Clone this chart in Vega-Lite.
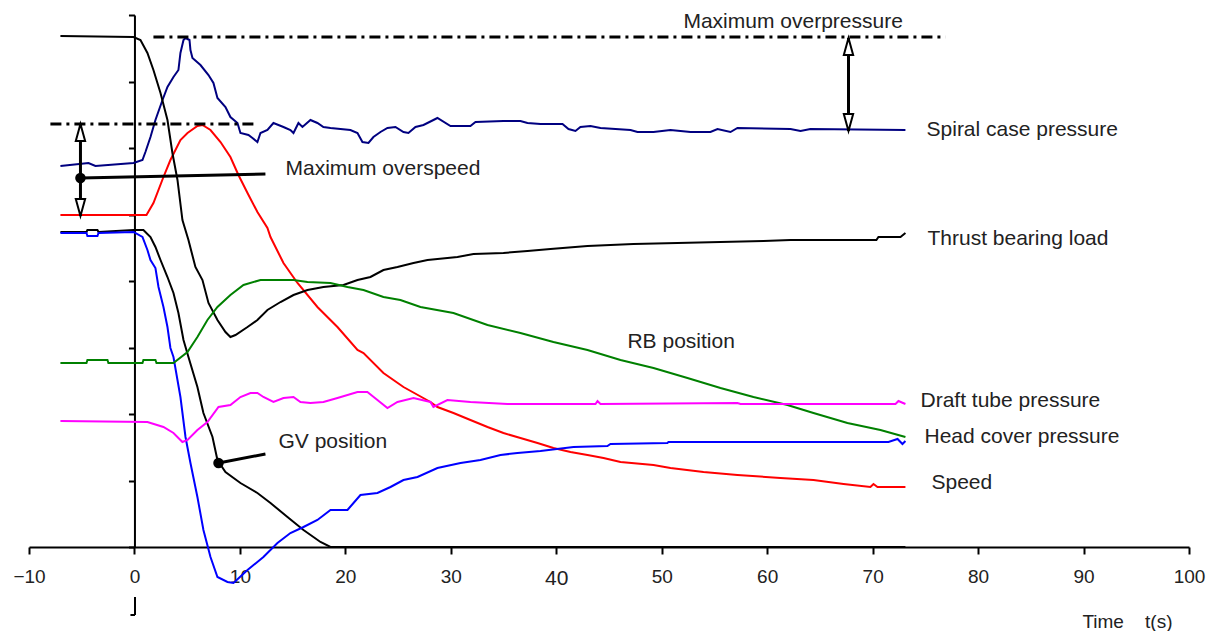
{
  "$schema": "https://vega.github.io/schema/vega-lite/v6.json",
  "autosize": "none",
  "width": 1160,
  "height": 532,
  "padding": {"left": 29, "top": 15, "right": 26, "bottom": 84},
  "background": "white",
  "config": {"view": {"stroke": null}, "font": "Liberation Sans"},
  "datasets": {
    "curves": [
      {"s": "Spiral case pressure", "t": -7.02, "v": 381}, {"s": "Spiral case pressure", "t": -4.36, "v": 384}, {"s": "Spiral case pressure", "t": -3.7, "v": 381}, {"s": "Spiral case pressure", "t": -0.09, "v": 384}, {"s": "Spiral case pressure", "t": 0.76, "v": 387}, {"s": "Spiral case pressure", "t": 1.04, "v": 395}, {"s": "Spiral case pressure", "t": 1.52, "v": 410}, {"s": "Spiral case pressure", "t": 1.99, "v": 427}, {"s": "Spiral case pressure", "t": 2.66, "v": 447}, {"s": "Spiral case pressure", "t": 3.13, "v": 460}, {"s": "Spiral case pressure", "t": 3.7, "v": 470}, {"s": "Spiral case pressure", "t": 4.17, "v": 477}, {"s": "Spiral case pressure", "t": 4.36, "v": 494}, {"s": "Spiral case pressure", "t": 4.65, "v": 507}, {"s": "Spiral case pressure", "t": 4.84, "v": 509}, {"s": "Spiral case pressure", "t": 5.22, "v": 507}, {"s": "Spiral case pressure", "t": 5.31, "v": 497}, {"s": "Spiral case pressure", "t": 5.5, "v": 489}, {"s": "Spiral case pressure", "t": 6.26, "v": 482}, {"s": "Spiral case pressure", "t": 7.02, "v": 472}, {"s": "Spiral case pressure", "t": 7.49, "v": 464}, {"s": "Spiral case pressure", "t": 7.87, "v": 449}, {"s": "Spiral case pressure", "t": 8.63, "v": 440}, {"s": "Spiral case pressure", "t": 9.1, "v": 430}, {"s": "Spiral case pressure", "t": 9.77, "v": 424}, {"s": "Spiral case pressure", "t": 10.05, "v": 414}, {"s": "Spiral case pressure", "t": 10.81, "v": 412}, {"s": "Spiral case pressure", "t": 11.19, "v": 409}, {"s": "Spiral case pressure", "t": 11.66, "v": 405}, {"s": "Spiral case pressure", "t": 11.95, "v": 414}, {"s": "Spiral case pressure", "t": 12.61, "v": 417}, {"s": "Spiral case pressure", "t": 13.18, "v": 424}, {"s": "Spiral case pressure", "t": 14.13, "v": 420}, {"s": "Spiral case pressure", "t": 14.79, "v": 417}, {"s": "Spiral case pressure", "t": 15.08, "v": 414}, {"s": "Spiral case pressure", "t": 15.55, "v": 424}, {"s": "Spiral case pressure", "t": 15.93, "v": 420}, {"s": "Spiral case pressure", "t": 16.69, "v": 427}, {"s": "Spiral case pressure", "t": 17.35, "v": 424}, {"s": "Spiral case pressure", "t": 17.92, "v": 420}, {"s": "Spiral case pressure", "t": 18.59, "v": 419}, {"s": "Spiral case pressure", "t": 20.48, "v": 417}, {"s": "Spiral case pressure", "t": 21.15, "v": 414}, {"s": "Spiral case pressure", "t": 21.62, "v": 405}, {"s": "Spiral case pressure", "t": 22.19, "v": 404}, {"s": "Spiral case pressure", "t": 22.66, "v": 410}, {"s": "Spiral case pressure", "t": 23.33, "v": 415}, {"s": "Spiral case pressure", "t": 23.99, "v": 419}, {"s": "Spiral case pressure", "t": 24.75, "v": 420}, {"s": "Spiral case pressure", "t": 25.51, "v": 415}, {"s": "Spiral case pressure", "t": 25.98, "v": 414}, {"s": "Spiral case pressure", "t": 26.65, "v": 420}, {"s": "Spiral case pressure", "t": 27.41, "v": 422}, {"s": "Spiral case pressure", "t": 28.73, "v": 429}, {"s": "Spiral case pressure", "t": 29.97, "v": 421}, {"s": "Spiral case pressure", "t": 31.86, "v": 421}, {"s": "Spiral case pressure", "t": 32.34, "v": 425}, {"s": "Spiral case pressure", "t": 34.99, "v": 426}, {"s": "Spiral case pressure", "t": 36.6, "v": 426}, {"s": "Spiral case pressure", "t": 37.27, "v": 424}, {"s": "Spiral case pressure", "t": 38.5, "v": 423}, {"s": "Spiral case pressure", "t": 40.59, "v": 423}, {"s": "Spiral case pressure", "t": 41.16, "v": 418}, {"s": "Spiral case pressure", "t": 41.82, "v": 416}, {"s": "Spiral case pressure", "t": 42.29, "v": 420}, {"s": "Spiral case pressure", "t": 43.24, "v": 421}, {"s": "Spiral case pressure", "t": 44.19, "v": 419}, {"s": "Spiral case pressure", "t": 47.04, "v": 417}, {"s": "Spiral case pressure", "t": 47.7, "v": 415}, {"s": "Spiral case pressure", "t": 49.22, "v": 415}, {"s": "Spiral case pressure", "t": 50.83, "v": 417}, {"s": "Spiral case pressure", "t": 52.73, "v": 415}, {"s": "Spiral case pressure", "t": 54.62, "v": 415}, {"s": "Spiral case pressure", "t": 55.29, "v": 418}, {"s": "Spiral case pressure", "t": 56.52, "v": 415}, {"s": "Spiral case pressure", "t": 57.18, "v": 419}, {"s": "Spiral case pressure", "t": 62.21, "v": 418}, {"s": "Spiral case pressure", "t": 63.16, "v": 416}, {"s": "Spiral case pressure", "t": 64.1, "v": 418}, {"s": "Spiral case pressure", "t": 73.11, "v": 417},

      {"s": "Speed", "t": -7.02, "v": 332}, {"s": "Speed", "t": 1.14, "v": 332}, {"s": "Speed", "t": 1.8, "v": 344}, {"s": "Speed", "t": 2.75, "v": 370}, {"s": "Speed", "t": 3.41, "v": 387}, {"s": "Speed", "t": 4.36, "v": 407}, {"s": "Speed", "t": 5.03, "v": 414}, {"s": "Speed", "t": 5.97, "v": 421}, {"s": "Speed", "t": 6.45, "v": 422}, {"s": "Speed", "t": 7.21, "v": 417}, {"s": "Speed", "t": 8.16, "v": 405}, {"s": "Speed", "t": 9.1, "v": 390}, {"s": "Speed", "t": 9.86, "v": 372}, {"s": "Speed", "t": 10.72, "v": 354}, {"s": "Speed", "t": 11.66, "v": 335}, {"s": "Speed", "t": 12.61, "v": 319}, {"s": "Speed", "t": 12.9, "v": 310}, {"s": "Speed", "t": 14.13, "v": 284}, {"s": "Speed", "t": 15.46, "v": 264}, {"s": "Speed", "t": 17.35, "v": 240}, {"s": "Speed", "t": 19.25, "v": 220}, {"s": "Speed", "t": 21.15, "v": 197}, {"s": "Speed", "t": 21.72, "v": 194}, {"s": "Speed", "t": 23.61, "v": 174}, {"s": "Speed", "t": 25.51, "v": 160}, {"s": "Speed", "t": 28.07, "v": 145}, {"s": "Speed", "t": 28.73, "v": 140}, {"s": "Speed", "t": 30.25, "v": 134}, {"s": "Speed", "t": 31.86, "v": 127}, {"s": "Speed", "t": 33.48, "v": 120}, {"s": "Speed", "t": 34.99, "v": 114}, {"s": "Speed", "t": 36.6, "v": 109}, {"s": "Speed", "t": 38.22, "v": 104}, {"s": "Speed", "t": 39.73, "v": 99}, {"s": "Speed", "t": 41.35, "v": 95}, {"s": "Speed", "t": 42.96, "v": 92}, {"s": "Speed", "t": 44.48, "v": 89}, {"s": "Speed", "t": 46.09, "v": 85}, {"s": "Speed", "t": 49.22, "v": 82}, {"s": "Speed", "t": 50.83, "v": 79}, {"s": "Speed", "t": 53.96, "v": 75}, {"s": "Speed", "t": 57.18, "v": 72}, {"s": "Speed", "t": 61.26, "v": 69}, {"s": "Speed", "t": 64.39, "v": 67}, {"s": "Speed", "t": 67.24, "v": 63}, {"s": "Speed", "t": 69.79, "v": 60}, {"s": "Speed", "t": 70.08, "v": 63}, {"s": "Speed", "t": 70.46, "v": 60}, {"s": "Speed", "t": 73.11, "v": 60},

      {"s": "Thrust bearing load", "t": -7.02, "v": 511}, {"s": "Thrust bearing load", "t": -0.09, "v": 510}, {"s": "Thrust bearing load", "t": 0.57, "v": 507}, {"s": "Thrust bearing load", "t": 1.23, "v": 494}, {"s": "Thrust bearing load", "t": 1.8, "v": 477}, {"s": "Thrust bearing load", "t": 2.47, "v": 454}, {"s": "Thrust bearing load", "t": 3.13, "v": 427}, {"s": "Thrust bearing load", "t": 3.6, "v": 394}, {"s": "Thrust bearing load", "t": 4.08, "v": 367}, {"s": "Thrust bearing load", "t": 4.55, "v": 327}, {"s": "Thrust bearing load", "t": 5.12, "v": 307}, {"s": "Thrust bearing load", "t": 5.78, "v": 280}, {"s": "Thrust bearing load", "t": 6.45, "v": 267}, {"s": "Thrust bearing load", "t": 7.02, "v": 244}, {"s": "Thrust bearing load", "t": 7.87, "v": 227}, {"s": "Thrust bearing load", "t": 8.63, "v": 215}, {"s": "Thrust bearing load", "t": 9.1, "v": 210}, {"s": "Thrust bearing load", "t": 9.58, "v": 212}, {"s": "Thrust bearing load", "t": 10.72, "v": 220}, {"s": "Thrust bearing load", "t": 11.66, "v": 227}, {"s": "Thrust bearing load", "t": 12.61, "v": 237}, {"s": "Thrust bearing load", "t": 13.85, "v": 245}, {"s": "Thrust bearing load", "t": 15.08, "v": 252}, {"s": "Thrust bearing load", "t": 16.41, "v": 257}, {"s": "Thrust bearing load", "t": 17.92, "v": 260}, {"s": "Thrust bearing load", "t": 19.82, "v": 262}, {"s": "Thrust bearing load", "t": 21.15, "v": 267}, {"s": "Thrust bearing load", "t": 22.38, "v": 270}, {"s": "Thrust bearing load", "t": 23.61, "v": 277}, {"s": "Thrust bearing load", "t": 24.94, "v": 280}, {"s": "Thrust bearing load", "t": 26.46, "v": 284}, {"s": "Thrust bearing load", "t": 27.79, "v": 287}, {"s": "Thrust bearing load", "t": 30.63, "v": 290}, {"s": "Thrust bearing load", "t": 32.15, "v": 293}, {"s": "Thrust bearing load", "t": 34.99, "v": 294}, {"s": "Thrust bearing load", "t": 37.27, "v": 296}, {"s": "Thrust bearing load", "t": 39.45, "v": 298}, {"s": "Thrust bearing load", "t": 42.96, "v": 301}, {"s": "Thrust bearing load", "t": 47.32, "v": 303}, {"s": "Thrust bearing load", "t": 51.49, "v": 304}, {"s": "Thrust bearing load", "t": 59.65, "v": 306}, {"s": "Thrust bearing load", "t": 62.21, "v": 307}, {"s": "Thrust bearing load", "t": 70.36, "v": 307}, {"s": "Thrust bearing load", "t": 70.55, "v": 310}, {"s": "Thrust bearing load", "t": 72.64, "v": 310}, {"s": "Thrust bearing load", "t": 73.11, "v": 314},

      {"s": "GV position", "t": -7.02, "v": 315}, {"s": "GV position", "t": -4.55, "v": 315}, {"s": "GV position", "t": -4.46, "v": 317}, {"s": "GV position", "t": -3.51, "v": 317}, {"s": "GV position", "t": -3.41, "v": 315}, {"s": "GV position", "t": -0.09, "v": 317}, {"s": "GV position", "t": 0.85, "v": 317}, {"s": "GV position", "t": 1.52, "v": 310}, {"s": "GV position", "t": 1.99, "v": 300}, {"s": "GV position", "t": 2.47, "v": 287}, {"s": "GV position", "t": 3.13, "v": 270}, {"s": "GV position", "t": 3.7, "v": 254}, {"s": "GV position", "t": 4.17, "v": 234}, {"s": "GV position", "t": 4.65, "v": 207}, {"s": "GV position", "t": 5.12, "v": 190}, {"s": "GV position", "t": 5.97, "v": 160}, {"s": "GV position", "t": 6.54, "v": 134}, {"s": "GV position", "t": 7.4, "v": 110}, {"s": "GV position", "t": 7.87, "v": 87}, {"s": "GV position", "t": 8.63, "v": 75}, {"s": "GV position", "t": 10.05, "v": 64}, {"s": "GV position", "t": 11.66, "v": 54}, {"s": "GV position", "t": 12.9, "v": 44}, {"s": "GV position", "t": 14.51, "v": 30}, {"s": "GV position", "t": 16.03, "v": 17}, {"s": "GV position", "t": 17.64, "v": 5}, {"s": "GV position", "t": 18.59, "v": 0}, {"s": "GV position", "t": 73.11, "v": 0},

      {"s": "Head cover pressure", "t": -7.02, "v": 314}, {"s": "Head cover pressure", "t": -4.55, "v": 314}, {"s": "Head cover pressure", "t": -4.46, "v": 311}, {"s": "Head cover pressure", "t": -3.51, "v": 311}, {"s": "Head cover pressure", "t": -3.41, "v": 314}, {"s": "Head cover pressure", "t": -0.09, "v": 315}, {"s": "Head cover pressure", "t": 0.76, "v": 310}, {"s": "Head cover pressure", "t": 1.23, "v": 297}, {"s": "Head cover pressure", "t": 1.52, "v": 287}, {"s": "Head cover pressure", "t": 1.99, "v": 279}, {"s": "Head cover pressure", "t": 2.28, "v": 260}, {"s": "Head cover pressure", "t": 2.75, "v": 240}, {"s": "Head cover pressure", "t": 3.13, "v": 220}, {"s": "Head cover pressure", "t": 3.41, "v": 199}, {"s": "Head cover pressure", "t": 3.7, "v": 190}, {"s": "Head cover pressure", "t": 4.36, "v": 150}, {"s": "Head cover pressure", "t": 4.84, "v": 110}, {"s": "Head cover pressure", "t": 5.31, "v": 84}, {"s": "Head cover pressure", "t": 5.97, "v": 50}, {"s": "Head cover pressure", "t": 6.54, "v": 17}, {"s": "Head cover pressure", "t": 7.21, "v": -10}, {"s": "Head cover pressure", "t": 7.87, "v": -30}, {"s": "Head cover pressure", "t": 8.82, "v": -35}, {"s": "Head cover pressure", "t": 9.39, "v": -36}, {"s": "Head cover pressure", "t": 10.72, "v": -23}, {"s": "Head cover pressure", "t": 12.23, "v": -10}, {"s": "Head cover pressure", "t": 13.56, "v": 4}, {"s": "Head cover pressure", "t": 14.79, "v": 14}, {"s": "Head cover pressure", "t": 16.03, "v": 20}, {"s": "Head cover pressure", "t": 17.35, "v": 27}, {"s": "Head cover pressure", "t": 18.59, "v": 37}, {"s": "Head cover pressure", "t": 20.2, "v": 37}, {"s": "Head cover pressure", "t": 21.43, "v": 52}, {"s": "Head cover pressure", "t": 23.04, "v": 54}, {"s": "Head cover pressure", "t": 24.28, "v": 60}, {"s": "Head cover pressure", "t": 25.51, "v": 67}, {"s": "Head cover pressure", "t": 26.84, "v": 70}, {"s": "Head cover pressure", "t": 28.73, "v": 79}, {"s": "Head cover pressure", "t": 30.92, "v": 84}, {"s": "Head cover pressure", "t": 32.81, "v": 87}, {"s": "Head cover pressure", "t": 34.71, "v": 92}, {"s": "Head cover pressure", "t": 36.32, "v": 94}, {"s": "Head cover pressure", "t": 38.5, "v": 96}, {"s": "Head cover pressure", "t": 41.63, "v": 100}, {"s": "Head cover pressure", "t": 44.85, "v": 101}, {"s": "Head cover pressure", "t": 45.14, "v": 103}, {"s": "Head cover pressure", "t": 50.54, "v": 104}, {"s": "Head cover pressure", "t": 50.64, "v": 105}, {"s": "Head cover pressure", "t": 71.5, "v": 105}, {"s": "Head cover pressure", "t": 72.36, "v": 108}, {"s": "Head cover pressure", "t": 72.83, "v": 103}, {"s": "Head cover pressure", "t": 73.11, "v": 106},

      {"s": "RB position", "t": -7.02, "v": 184}, {"s": "RB position", "t": -4.55, "v": 184}, {"s": "RB position", "t": -4.46, "v": 187}, {"s": "RB position", "t": -2.56, "v": 187}, {"s": "RB position", "t": -2.47, "v": 184}, {"s": "RB position", "t": 0.76, "v": 184}, {"s": "RB position", "t": 0.85, "v": 187}, {"s": "RB position", "t": 1.99, "v": 187}, {"s": "RB position", "t": 2.09, "v": 184}, {"s": "RB position", "t": 3.7, "v": 184}, {"s": "RB position", "t": 5.03, "v": 195}, {"s": "RB position", "t": 5.97, "v": 210}, {"s": "RB position", "t": 6.92, "v": 227}, {"s": "RB position", "t": 7.87, "v": 240}, {"s": "RB position", "t": 9.1, "v": 252}, {"s": "RB position", "t": 10.34, "v": 262}, {"s": "RB position", "t": 11.95, "v": 267}, {"s": "RB position", "t": 15.08, "v": 267}, {"s": "RB position", "t": 16.41, "v": 265}, {"s": "RB position", "t": 18.59, "v": 264}, {"s": "RB position", "t": 20.2, "v": 260}, {"s": "RB position", "t": 21.72, "v": 257}, {"s": "RB position", "t": 23.61, "v": 250}, {"s": "RB position", "t": 25.22, "v": 247}, {"s": "RB position", "t": 27.12, "v": 240}, {"s": "RB position", "t": 30.25, "v": 234}, {"s": "RB position", "t": 33.48, "v": 222}, {"s": "RB position", "t": 36.6, "v": 214}, {"s": "RB position", "t": 39.73, "v": 205}, {"s": "RB position", "t": 42.96, "v": 197}, {"s": "RB position", "t": 46.09, "v": 187}, {"s": "RB position", "t": 49.22, "v": 179}, {"s": "RB position", "t": 52.44, "v": 169}, {"s": "RB position", "t": 55.57, "v": 159}, {"s": "RB position", "t": 58.7, "v": 150}, {"s": "RB position", "t": 61.92, "v": 142}, {"s": "RB position", "t": 64.39, "v": 134}, {"s": "RB position", "t": 67.61, "v": 124}, {"s": "RB position", "t": 70.74, "v": 117}, {"s": "RB position", "t": 73.11, "v": 110},

      {"s": "Draft tube pressure", "t": -7.02, "v": 126}, {"s": "Draft tube pressure", "t": 1.23, "v": 125}, {"s": "Draft tube pressure", "t": 2.75, "v": 120}, {"s": "Draft tube pressure", "t": 3.7, "v": 114}, {"s": "Draft tube pressure", "t": 4.55, "v": 105}, {"s": "Draft tube pressure", "t": 5.03, "v": 107}, {"s": "Draft tube pressure", "t": 5.97, "v": 117}, {"s": "Draft tube pressure", "t": 6.92, "v": 125}, {"s": "Draft tube pressure", "t": 7.97, "v": 140}, {"s": "Draft tube pressure", "t": 9.1, "v": 142}, {"s": "Draft tube pressure", "t": 10.05, "v": 150}, {"s": "Draft tube pressure", "t": 11.0, "v": 154}, {"s": "Draft tube pressure", "t": 11.66, "v": 154}, {"s": "Draft tube pressure", "t": 12.23, "v": 150}, {"s": "Draft tube pressure", "t": 13.18, "v": 145}, {"s": "Draft tube pressure", "t": 14.13, "v": 149}, {"s": "Draft tube pressure", "t": 15.08, "v": 150}, {"s": "Draft tube pressure", "t": 15.74, "v": 145}, {"s": "Draft tube pressure", "t": 16.69, "v": 144}, {"s": "Draft tube pressure", "t": 17.92, "v": 145}, {"s": "Draft tube pressure", "t": 19.25, "v": 149}, {"s": "Draft tube pressure", "t": 21.15, "v": 155}, {"s": "Draft tube pressure", "t": 22.09, "v": 155}, {"s": "Draft tube pressure", "t": 23.04, "v": 147}, {"s": "Draft tube pressure", "t": 23.99, "v": 139}, {"s": "Draft tube pressure", "t": 24.94, "v": 145}, {"s": "Draft tube pressure", "t": 26.46, "v": 149}, {"s": "Draft tube pressure", "t": 28.07, "v": 145}, {"s": "Draft tube pressure", "t": 28.35, "v": 140}, {"s": "Draft tube pressure", "t": 29.68, "v": 147}, {"s": "Draft tube pressure", "t": 31.86, "v": 145}, {"s": "Draft tube pressure", "t": 35.37, "v": 143}, {"s": "Draft tube pressure", "t": 43.72, "v": 143}, {"s": "Draft tube pressure", "t": 43.91, "v": 146}, {"s": "Draft tube pressure", "t": 44.19, "v": 143}, {"s": "Draft tube pressure", "t": 57.18, "v": 144}, {"s": "Draft tube pressure", "t": 57.47, "v": 143}, {"s": "Draft tube pressure", "t": 72.17, "v": 143}, {"s": "Draft tube pressure", "t": 72.45, "v": 146}, {"s": "Draft tube pressure", "t": 73.11, "v": 143}
    ],
    "levels": [
      {"t1": 1.8, "t2": 76.91, "v": 510},
      {"t1": -7.97, "t2": 11.66, "v": 423}
    ],
    "segments": [
      {"t1": 67.71, "t2": 67.71, "v1": 416, "v2": 509},
      {"t1": -5.12, "t2": -5.12, "v1": 331, "v2": 423},
      {"t1": -5.12, "t2": 12.42, "v1": 369, "v2": 373},
      {"t1": 7.97, "t2": 12.42, "v1": 84, "v2": 93}
    ],
    "heads": [
      {"t": 67.71, "v": 500.5, "dir": "up"},
      {"t": 67.71, "v": 424.5, "dir": "down"},
      {"t": -5.12, "v": 414.5, "dir": "up"},
      {"t": -5.12, "v": 339.5, "dir": "down"}
    ],
    "dots": [
      {"t": -5.12, "v": 369},
      {"t": 7.97, "v": 84}
    ],
    "labels": [
      {"t": 52.06, "v": 525, "text": "Maximum overpressure"},
      {"t": 75.11, "v": 417, "text": "Spiral case pressure"},
      {"t": 14.32, "v": 378, "text": "Maximum overspeed"},
      {"t": 75.2, "v": 308, "text": "Thrust bearing load"},
      {"t": 46.75, "v": 205, "text": "RB position"},
      {"t": 74.54, "v": 146, "text": "Draft tube pressure"},
      {"t": 74.92, "v": 110, "text": "Head cover pressure"},
      {"t": 75.58, "v": 64, "text": "Speed"},
      {"t": 13.66, "v": 105, "text": "GV position"}
    ],
    "bracket": [
      {"t1": 0.05, "t2": 0.05, "v1": -50, "v2": -68},
      {"t1": -0.38, "t2": 0.05, "v1": -68, "v2": -68}
    ]
  },
  "layer": [
    {
      "data": {"name": "curves"},
      "mark": {"type": "line", "strokeWidth": 2, "clip": false},
      "encoding": {
        "x": {
          "field": "t", "type": "quantitative",
          "scale": {"domain": [-10, 100], "nice": false, "zero": false},
          "axis": {
            "values": [-10, 0, 10, 20, 30, 40, 50, 60, 70, 80, 90, 100],
            "grid": false,
            "domainColor": "#000", "domainWidth": 2,
            "tickColor": "#000", "tickWidth": 2, "tickSize": 7,
            "labelFont": "Liberation Sans",
            "labelFontSize": {"condition": {"test": "datum.value == 40", "value": 21}, "value": 19},
            "labelColor": "#222",
            "labelPadding": 13,
            "labelFlush": false,
            "title": "Time\u00a0\u00a0\u00a0\u00a0t(s)",
            "titleFont": "Liberation Sans",
            "titleFontSize": 19,
            "titleFontWeight": "normal",
            "titleColor": "#222",
            "titleAnchor": "end",
            "titleAlign": "right",
            "titleBaseline": "middle",
            "titleX": 1143,
            "titleY": 74
          }
        },
        "y": {
          "field": "v", "type": "quantitative",
          "scale": {"domain": [0, 532], "nice": false, "zero": false},
          "axis": {
            "values": [0, 66.5, 133, 199.5, 266, 332.5, 399, 465.5, 532],
            "offset": -105.45,
            "labels": false,
            "grid": false,
            "title": null,
            "domainColor": "#000", "domainWidth": 2,
            "tickColor": "#000", "tickWidth": 2, "tickSize": 6
          }
        },
        "color": {
          "field": "s", "type": "nominal", "legend": null,
          "scale": {
            "domain": ["Spiral case pressure", "Speed", "Thrust bearing load", "GV position", "Head cover pressure", "RB position", "Draft tube pressure"],
            "range": ["#000080", "#ff0000", "#000000", "#000000", "#0000ff", "#008000", "#ff00ff"]
          }
        }
      }
    },
    {
      "data": {"name": "levels"},
      "mark": {"type": "rule", "color": "#000", "strokeWidth": 3, "strokeDash": [11, 5, 3, 5]},
      "encoding": {
        "x": {"field": "t1", "type": "quantitative"},
        "x2": {"field": "t2"},
        "y": {"field": "v", "type": "quantitative"}
      }
    },
    {
      "data": {"name": "segments"},
      "mark": {"type": "rule", "color": "#000", "strokeWidth": 3},
      "encoding": {
        "x": {"field": "t1", "type": "quantitative"},
        "x2": {"field": "t2"},
        "y": {"field": "v1", "type": "quantitative"},
        "y2": {"field": "v2"}
      }
    },
    {
      "data": {"name": "bracket"},
      "mark": {"type": "rule", "color": "#000", "strokeWidth": 2},
      "encoding": {
        "x": {"field": "t1", "type": "quantitative"},
        "x2": {"field": "t2"},
        "y": {"field": "v1", "type": "quantitative"},
        "y2": {"field": "v2"}
      }
    },
    {
      "data": {"name": "heads"},
      "mark": {"type": "point", "filled": false, "fill": "white", "fillOpacity": 1, "stroke": "#000", "strokeWidth": 2, "opacity": 1, "size": 289},
      "encoding": {
        "x": {"field": "t", "type": "quantitative"},
        "y": {"field": "v", "type": "quantitative"},
        "shape": {
          "field": "dir", "type": "nominal", "legend": null,
          "scale": {"domain": ["up", "down"], "range": ["M0,-1L0.55,1L-0.55,1Z", "M0,1L0.55,-1L-0.55,-1Z"]}
        }
      }
    },
    {
      "data": {"name": "dots"},
      "mark": {"type": "point", "shape": "circle", "filled": true, "color": "#000", "opacity": 1, "size": 110},
      "encoding": {
        "x": {"field": "t", "type": "quantitative"},
        "y": {"field": "v", "type": "quantitative"}
      }
    },
    {
      "data": {"name": "labels"},
      "mark": {"type": "text", "align": "left", "baseline": "middle", "fontSize": 21, "font": "Liberation Sans", "color": "#222"},
      "encoding": {
        "x": {"field": "t", "type": "quantitative"},
        "y": {"field": "v", "type": "quantitative"},
        "text": {"field": "text", "type": "nominal"}
      }
    }
  ]
}
